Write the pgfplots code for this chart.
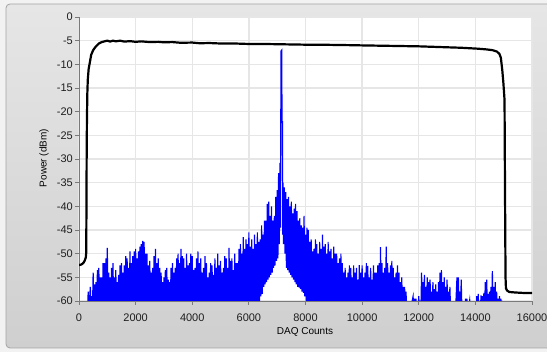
\documentclass[border=0pt]{standalone}
\usepackage{pgfplots}
\pgfplotsset{compat=1.18}
\usepackage{fontspec}
\setmainfont{Liberation Sans}
\definecolor{tickc}{HTML}{1E1E1E}
\definecolor{labc}{HTML}{33302A}
\definecolor{gridc}{HTML}{E6E6E6}
\definecolor{axc}{HTML}{7A7A7A}
\definecolor{frc}{HTML}{A4A4A4}
\definecolor{bgtop}{HTML}{E6E6E6}
\definecolor{bgbot}{HTML}{CFCFCF}
\definecolor{pblue}{RGB}{0,0,255}
\begin{document}
\begin{tikzpicture}[x=1pt,y=1pt]
\useasboundingbox (0,0) rectangle (547,352);
\fill[white!95!black] (0,0) rectangle (547,352);
\path[top color=bgtop, bottom color=bgbot, draw=frc, line width=0.8pt, rounded corners=4pt] (6,4) rectangle (552,348);
\begin{axis}[
  at={(79pt,51pt)}, anchor=south west,
  width=453pt, height=284pt, scale only axis,
  xmin=0, xmax=16000, ymin=-60, ymax=0,
  xtick={0,2000,...,16000}, ytick={-60,-55,...,0},
  scaled x ticks=false,
  /pgf/number format/assume math mode=true,
  /pgf/number format/set thousands separator={},
  axis background/.style={fill=white},
  axis x line*=bottom, axis y line*=left,
  axis line style={axc, line width=0.9pt, -},
  tick align=outside, major tick length=4pt,
  tick style={axc, line width=0.8pt},
  grid=major, major grid style={gridc, line width=1.3pt},
  ticklabel style={font=\fontsize{11}{13}\selectfont, text=tickc},
  xticklabel style={anchor=center, yshift=-12.5pt},
  yticklabel style={anchor=east, inner sep=0pt, xshift=-2pt},
  xlabel={DAQ Counts}, ylabel={Power (dBm)},
  label style={font=\fontsize{11.5}{13}\selectfont, text=labc},
  every axis x label/.style={at={(axis description cs:0.4989,-0.109)}, anchor=center},
  every axis y label/.style={at={(axis description cs:-0.0773,0.5035)}, anchor=center, rotate=90},
]
% blue spectrum
\addplot[pblue, line width=1.15pt] coordinates {
(300,-62)(325,-58)(350,-62)(375,-59.5)
(400,-57)(425,-62)(450,-59)(475,-62)
(500,-54)(525,-62)(550,-56.5)(575,-62)
(600,-56)(625,-62)(650,-53.5)(675,-62)
(700,-53)(725,-62)(750,-55)(775,-62)
(800,-55)(825,-62)(850,-52)(875,-62)
(900,-52)(925,-62)(950,-51)(975,-62)
(1000,-48.8)(1025,-62)(1050,-54)(1075,-62)
(1100,-55)(1125,-62)(1150,-53)(1175,-62)
(1200,-52)(1225,-62)(1250,-55)(1275,-62)
(1300,-53.5)(1325,-62)(1350,-56)(1375,-62)
(1400,-54.5)(1425,-62)(1450,-52.5)(1475,-62)
(1500,-52)(1525,-62)(1550,-54)(1575,-62)
(1600,-52.5)(1625,-62)(1650,-50.5)(1675,-62)
(1700,-51)(1725,-62)(1750,-53)(1775,-62)
(1800,-49.5)(1825,-62)(1850,-52)(1875,-62)
(1900,-50.5)(1925,-62)(1950,-49.5)(1975,-62)
(2000,-49)(2025,-62)(2050,-51)(2075,-62)
(2100,-49.5)(2125,-62)(2150,-48.5)(2175,-62)
(2200,-48)(2225,-62)(2250,-47.3)(2275,-62)
(2300,-47.5)(2325,-62)(2350,-50)(2375,-62)
(2400,-50)(2425,-62)(2450,-52.5)(2475,-62)
(2500,-51.5)(2525,-62)(2550,-54)(2575,-62)
(2600,-53)(2625,-62)(2650,-50.5)(2675,-62)
(2700,-49)(2725,-62)(2750,-52)(2775,-62)
(2800,-51)(2825,-62)(2850,-53)(2875,-62)
(2900,-54)(2925,-62)(2950,-56)(2975,-62)
(3000,-55)(3025,-62)(3050,-53.5)(3075,-62)
(3100,-53)(3125,-62)(3150,-55.5)(3175,-62)
(3200,-56)(3225,-62)(3250,-53)(3275,-62)
(3300,-52)(3325,-62)(3350,-54)(3375,-62)
(3400,-53)(3425,-62)(3450,-51)(3475,-62)
(3500,-50)(3525,-62)(3550,-52)(3575,-62)
(3600,-49)(3625,-62)(3650,-50.5)(3675,-62)
(3700,-51)(3725,-62)(3750,-53)(3775,-62)
(3800,-50)(3825,-62)(3850,-52.5)(3875,-62)
(3900,-52)(3925,-62)(3950,-50)(3975,-62)
(4000,-50.5)(4025,-62)(4050,-53.5)(4075,-62)
(4100,-53)(4125,-62)(4150,-51)(4175,-62)
(4200,-49.5)(4225,-62)(4250,-52)(4275,-62)
(4300,-51)(4325,-62)(4350,-54)(4375,-62)
(4400,-53)(4425,-62)(4450,-50.5)(4475,-62)
(4500,-52)(4525,-62)(4550,-55)(4575,-62)
(4600,-54)(4625,-62)(4650,-52)(4675,-62)
(4700,-52.5)(4725,-62)(4750,-54.5)(4775,-62)
(4800,-51)(4825,-62)(4850,-53)(4875,-62)
(4900,-50)(4925,-62)(4950,-52.5)(4975,-62)
(5000,-51.5)(5025,-62)(5050,-54)(5075,-62)
(5100,-53)(5125,-62)(5150,-50.5)(5175,-62)
(5200,-51)(5225,-62)(5250,-53)(5275,-62)
(5300,-48.8)(5325,-62)(5350,-51.5)(5375,-62)
(5400,-51)(5425,-62)(5450,-53.5)(5475,-62)
(5500,-50)(5525,-62)(5550,-52)(5575,-62)
(5600,-52)(5625,-62)(5650,-49)(5675,-62)
(5700,-48)(5725,-62)(5750,-50)(5775,-62)
(5800,-46.5)(5825,-62)(5850,-49)(5875,-62)
(5900,-47)(5925,-62)(5950,-48)(5975,-62)
(6000,-45.5)(6025,-62)(6050,-48.5)(6075,-62)
(6100,-47)(6125,-62)(6150,-49)(6175,-62)
(6200,-46)(6225,-62)(6250,-48)(6275,-61)
(6300,-45.5)(6325,-60)(6350,-47.5)(6375,-60)
(6400,-47)(6425,-59)(6450,-44)(6475,-58.5)
(6500,-46)(6525,-57)(6550,-43)(6575,-56.5)
(6600,-43)(6625,-56)(6650,-39.5)(6675,-55.5)
(6700,-39)(6725,-55)(6750,-42)(6775,-54.5)
(6800,-40)(6825,-54)(6850,-43)(6875,-53)
(6900,-42)(6925,-52.5)(6950,-38)(6975,-51.5)
(7000,-36.6)(7025,-51)(7050,-33)(7075,-48)
(7100,-30.8)(7115,-44.5)(7135,-7.2)(7160,-7)
(7172,-22.4)(7185,-22)(7195,-46)(7210,-35)
(7225,-48)(7250,-36)(7275,-50)(7300,-37)
(7325,-53)(7350,-38.5)(7375,-53.5)
(7400,-38)(7425,-54)(7450,-40)(7475,-54.5)
(7500,-39)(7525,-55)(7550,-41.5)(7575,-55.5)
(7600,-40.5)(7625,-56)(7650,-39.5)(7675,-56.5)
(7700,-41)(7725,-57)(7750,-43)(7775,-57.2)
(7800,-42.5)(7825,-57.5)(7850,-44)(7875,-58)
(7900,-44.5)(7925,-58.3)(7950,-42)(7975,-59)
(8000,-46)(8025,-60)(8050,-44.5)(8075,-61)
(8100,-45)(8125,-62)(8150,-47.5)(8175,-62)
(8200,-47)(8225,-62)(8250,-49.5)(8275,-62)
(8300,-49)(8325,-62)(8350,-47)(8375,-62)
(8400,-48)(8425,-62)(8450,-50)(8475,-62)
(8500,-47.5)(8525,-62)(8550,-49)(8575,-62)
(8600,-46)(8625,-62)(8650,-48.5)(8675,-62)
(8700,-48)(8725,-62)(8750,-50)(8775,-62)
(8800,-47.5)(8825,-62)(8850,-49.5)(8875,-62)
(8900,-49)(8925,-62)(8950,-51)(8975,-62)
(9000,-48.5)(9025,-62)(9050,-50)(9075,-62)
(9100,-50)(9125,-62)(9150,-52)(9175,-62)
(9200,-51)(9225,-62)(9250,-50)(9275,-62)
(9300,-52)(9325,-62)(9350,-54)(9375,-62)
(9400,-53)(9425,-62)(9450,-55)(9475,-62)
(9500,-54)(9525,-62)(9550,-52.5)(9575,-62)
(9600,-53)(9625,-62)(9650,-55)(9675,-62)
(9700,-52.5)(9725,-62)(9750,-54)(9775,-62)
(9800,-53)(9825,-62)(9850,-55.5)(9875,-62)
(9900,-52.4)(9925,-62)(9950,-54)(9975,-62)
(10000,-52.5)(10025,-62)(10050,-55)(10075,-62)
(10100,-54)(10125,-62)(10150,-52)(10175,-62)
(10200,-52.6)(10225,-62)(10250,-55)(10275,-62)
(10300,-53)(10325,-62)(10350,-55.5)(10375,-62)
(10400,-52.5)(10425,-62)(10450,-54)(10475,-62)
(10500,-54)(10525,-62)(10550,-52.5)(10575,-62)
(10600,-52)(10625,-62)(10650,-48.6)(10675,-62)
(10700,-52)(10725,-62)(10750,-54)(10775,-62)
(10800,-53)(10825,-62)(10850,-48.5)(10875,-62)
(10900,-52)(10925,-62)(10950,-54)(10975,-62)
(11000,-52.5)(11025,-62)(11050,-51.5)(11075,-62)
(11100,-53)(11125,-62)(11150,-55)(11175,-62)
(11200,-54)(11225,-62)(11250,-52.5)(11275,-62)
(11300,-54)(11325,-62)(11350,-56)(11375,-62)
(11400,-55)(11425,-62)(11450,-57)(11475,-62)
(11500,-57)(11525,-62)(11550,-58)(11575,-62)
(11600,-62)(11700,-62)
(11800,-59)(11825,-62)(11850,-59.5)(11875,-62)
(11900,-59.5)(11925,-62)(11950,-62)(11975,-62)
(12000,-59)(12025,-62)(12050,-60)(12075,-62)
(12100,-54)(12125,-62)(12150,-56)(12175,-62)
(12200,-54.5)(12225,-62)(12250,-57)(12275,-62)
(12300,-55)(12325,-62)(12350,-56)(12375,-62)
(12400,-55.5)(12425,-62)(12450,-58)(12475,-62)
(12500,-56)(12525,-62)(12550,-57.5)(12575,-62)
(12600,-56.5)(12625,-62)(12650,-58)(12675,-62)
(12700,-56)(12725,-62)(12750,-54)(12775,-62)
(12800,-53.5)(12825,-62)(12850,-56)(12875,-62)
(12900,-55)(12925,-62)(12950,-57)(12975,-62)
(13000,-55.5)(13025,-62)(13050,-58)(13075,-62)
(13100,-57)(13125,-62)(13300,-62)
(13350,-55)(13375,-62)
(13400,-55)(13425,-62)(13450,-58)(13475,-62)
(13500,-55.5)(13525,-62)(13650,-62)
(13650,-59.5)(13675,-62)
(13700,-59.5)(13725,-62)(13750,-62)
(13800,-59.8)(13825,-62)(14025,-62)
(14050,-59)(14075,-62)
(14100,-58.5)(14125,-62)(14150,-60)(14175,-62)
(14200,-58.8)(14225,-62)(14250,-59)(14275,-62)
(14300,-58.3)(14325,-62)(14350,-56)(14375,-62)
(14400,-55.5)(14425,-62)(14450,-58.5)(14475,-62)
(14500,-58)(14525,-62)(14550,-57)(14575,-62)
(14600,-53.7)(14625,-62)(14650,-57)(14675,-62)
(14700,-56)(14725,-62)(14750,-58)(14775,-62)
(14800,-59.5)(14825,-62)(14850,-59)(14875,-62)
(14900,-59.5)(14925,-62)(14950,-60)(14975,-62)
(15000,-62)
};
% black reference line
\addplot[black, line width=2.2pt, line join=round] coordinates {
(0,-52.4)(80,-52.3)(150,-52)(200,-51.5)(240,-50.8)(255,-49.8)
(262,-42)(270,-30)(280,-21.8)(295,-16)(310,-13.3)(340,-11)
(380,-9.7)(430,-8)(500,-7)(600,-6.2)(700,-5.6)(800,-5.3)
(900,-5.15)(1000,-5.0)(1100,-5.2)(1200,-5.0)(1300,-5.15)(1450,-5.0)
(1600,-5.2)(1800,-5.1)(2000,-5.25)(2200,-5.15)(2500,-5.3)(2800,-5.25)
(3000,-5.35)(3300,-5.3)(3600,-5.45)(4000,-5.4)(4270,-5.55)(4600,-5.5)
(5000,-5.6)(5500,-5.6)(6000,-5.7)(6500,-5.7)(7000,-5.75)(7500,-5.8)
(8000,-5.85)(8500,-5.85)(9000,-5.9)(9570,-5.95)(10000,-6.0)(10500,-6.05)
(11000,-6.1)(11500,-6.15)(12000,-6.2)(12500,-6.3)(13000,-6.4)(13500,-6.5)
(13800,-6.6)(14100,-6.7)(14400,-6.85)(14600,-7.0)(14760,-7.3)(14850,-7.8)
(14900,-8.6)(14950,-11.2)(14990,-14)(15030,-17.5)(15045,-35)(15065,-55)
(15080,-57.3)(15120,-57.8)(15200,-58.1)(15400,-58.2)(15700,-58.3)(16000,-58.3)
};
\end{axis}
\end{tikzpicture}
\end{document}
